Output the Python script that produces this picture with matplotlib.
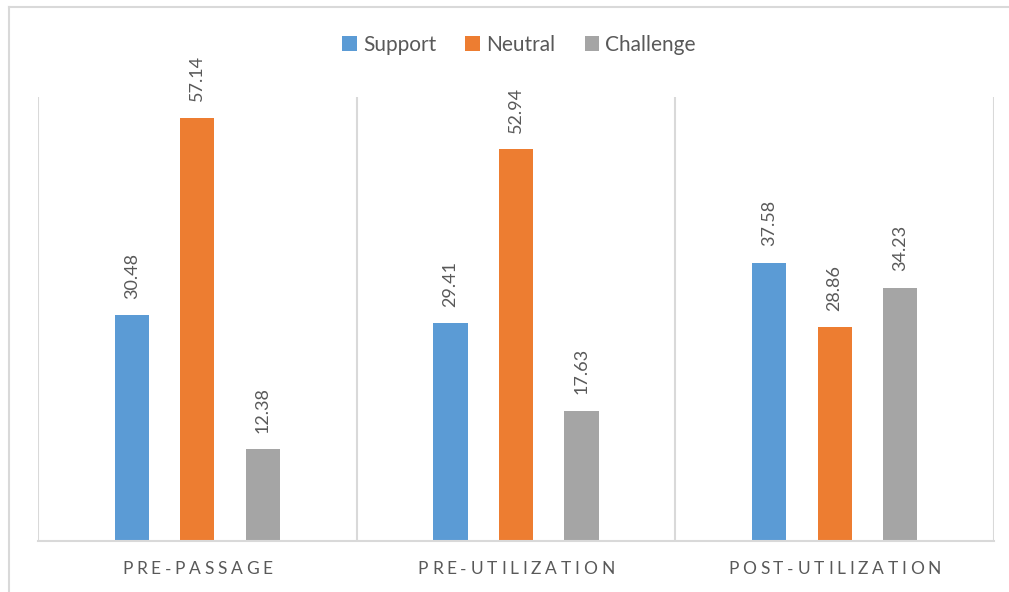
import matplotlib
matplotlib.use("Agg")
import matplotlib.pyplot as plt
from matplotlib.lines import Line2D
from matplotlib.textpath import TextPath
from matplotlib.font_manager import FontProperties
import numpy as np

categories = ["PRE-PASSAGE", "PRE-UTILIZATION", "POST-UTILIZATION"]
series_names = ["Support", "Neutral", "Challenge"]
support = [30.48, 29.41, 37.58]
neutral = [57.14, 52.94, 28.86]
challenge = [12.38, 17.63, 34.23]
colors = ["#5B9BD5", "#ED7D31", "#A5A5A5"]
text_color = "#595959"
grid_color = "#D9D9D9"

plt.rcParams["font.family"] = ["Lato", "DejaVu Sans"]

W, H, DPI = 1009, 592, 100
fig = plt.figure(figsize=(W / DPI, H / DPI), dpi=DPI)
fig.patch.set_facecolor("white")

# outer frame: top and left edges only
fig.add_artist(Line2D([9 / W, 1], [1 - 7 / H, 1 - 7 / H], color=grid_color, lw=1.5,
                      transform=fig.transFigure))
fig.add_artist(Line2D([9 / W, 9 / W], [0, 1 - 7 / H], color=grid_color, lw=1.5,
                      transform=fig.transFigure))

left, right, top, bottom = 38, 994, 97, 541
ax = fig.add_axes([left / W, 1 - bottom / H, (right - left) / W, (bottom - top) / H])
ax.set_xlim(0, len(categories))
ax.set_ylim(0, 60)
for s in ax.spines.values():
    s.set_visible(False)
ax.set_xticks([])
ax.set_yticks([])

# category dividers and baseline
for i in range(len(categories) + 1):
    ax.axvline(i, color=grid_color, lw=1.5, zorder=0)
ax.axhline(0, color=grid_color, lw=1.5, zorder=3, clip_on=False)

values = [support, neutral, challenge]
offsets = [-0.2055, 0.0, 0.2055]
bar_w = 0.107
x = np.arange(len(categories)) + 0.5
for vals, off, col, name in zip(values, offsets, colors, series_names):
    bars = ax.bar(x + off, vals, width=bar_w, color=col, label=name, zorder=2)
    for b, v in zip(bars, vals):
        ax.annotate(f"{v:.2f}", (b.get_x() + b.get_width() / 2, v),
                    xytext=(0, 12), textcoords="offset points",
                    rotation=90, ha="center", va="bottom",
                    color=text_color, fontsize=13)

# letter-spaced category labels
fp = FontProperties(family="Lato", size=12.5)
tracking = 2.7  # extra points between letters
hh = TextPath((0, 0), "HH", prop=fp).get_extents().width
for xc, lab in zip(x, categories):
    advs = [TextPath((0, 0), "H" + ch + "H", prop=fp).get_extents().width - hh
            for ch in lab]
    total = sum(advs) + tracking * (len(lab) - 1)
    pos = -total / 2
    for ch, a in zip(lab, advs):
        ax.annotate(ch, (xc, 0), xytext=(pos + a / 2, -20.5), textcoords="offset points",
                    ha="center", va="center", color=text_color, fontproperties=fp,
                    annotation_clip=False)
        pos += a + tracking

fig.legend(loc="center", bbox_to_anchor=(519 / W, 1 - 45 / H), ncol=3,
           frameon=False, fontsize=15, handlelength=0.7, handleheight=0.7,
           handletextpad=0.3, columnspacing=1.4, labelcolor=text_color)

fig.savefig("out.png", dpi=DPI, facecolor="white")
